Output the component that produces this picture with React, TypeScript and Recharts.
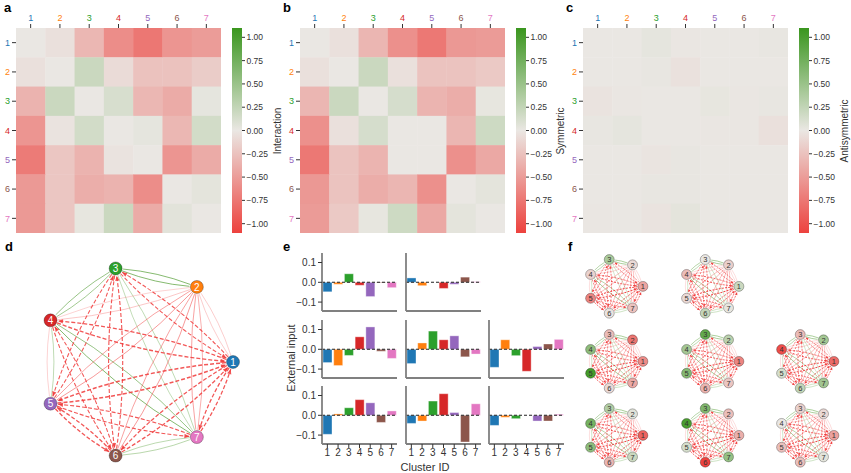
import React from "react";
import { Bar, BarChart, Cell, ReferenceLine, Scatter, ScatterChart, XAxis, YAxis } from "recharts";

const FONT = '"Liberation Sans", Arial, sans-serif';

const CLUSTERS = [1, 2, 3, 4, 5, 6, 7];
const CLUSTER_COLORS = ["#1f77b4", "#ff7f0e", "#2ca02c", "#d62728", "#9467bd", "#8c564b", "#e377c2"];

// rows = receiving cluster, columns = sending cluster
const interaction = [
  [0.0, -0.05, -0.32, -0.6, -0.75, -0.55, -0.5],
  [-0.05, 0.0, 0.2, -0.08, -0.25, -0.25, -0.18],
  [-0.35, 0.2, 0.0, 0.12, -0.32, -0.4, 0.03],
  [-0.55, -0.03, 0.15, 0.0, 0.03, -0.32, 0.15],
  [-0.72, -0.22, -0.35, -0.03, 0.0, -0.55, -0.4],
  [-0.52, -0.22, -0.38, -0.35, -0.6, 0.0, 0.04],
  [-0.52, -0.22, 0.02, 0.2, -0.4, 0.05, 0.0],
];

const symmetric = [
  [0.0, -0.05, -0.33, -0.58, -0.74, -0.53, -0.51],
  [-0.05, 0.0, 0.2, -0.05, -0.24, -0.24, -0.2],
  [-0.33, 0.2, 0.0, 0.13, -0.34, -0.39, 0.02],
  [-0.58, -0.05, 0.13, 0.0, 0.0, -0.33, 0.18],
  [-0.74, -0.24, -0.34, 0.0, 0.0, -0.58, -0.42],
  [-0.53, -0.24, -0.39, -0.33, -0.58, 0.0, 0.04],
  [-0.51, -0.2, 0.02, 0.18, -0.42, 0.04, 0.0],
];

const antisymmetric = [
  [0.0, 0.0, 0.03, -0.01, 0.0, 0.0, 0.01],
  [0.0, 0.0, 0.01, -0.04, 0.0, 0.0, 0.0],
  [-0.03, -0.01, 0.0, 0.0, 0.02, -0.01, 0.01],
  [0.01, 0.03, 0.0, 0.0, -0.01, -0.01, -0.05],
  [0.0, 0.0, -0.02, 0.01, 0.0, 0.0, 0.0],
  [0.0, 0.0, 0.01, 0.01, 0.0, 0.0, 0.0],
  [-0.01, 0.0, -0.03, 0.04, 0.0, 0.0, 0.0],
];

const CBAR_RANGE = [-1.1, 1.1];
const CBAR_TICKS = [1, 0.75, 0.5, 0.25, 0, -0.25, -0.5, -0.75, -1];
const INPUT_TICKS = [-0.1, 0, 0.1];
const INPUT_DOMAIN = [-0.145, 0.148];

const input_r1c1 = [-0.048, -0.01, 0.043, -0.015, -0.072, -0.003, -0.027];
const input_r1c2 = [0.022, -0.017, 0.0, -0.031, -0.01, 0.026, 0.003];
const input_r2c1 = [-0.067, -0.082, -0.031, 0.063, 0.113, -0.01, -0.046];
const input_r2c2 = [-0.072, 0.032, 0.092, 0.048, 0.068, -0.038, -0.024];
const input_r2c3 = [-0.091, 0.048, -0.032, -0.111, 0.014, 0.027, 0.05];
const input_r3c1 = [-0.096, 0.007, 0.038, 0.079, 0.063, -0.036, 0.022];
const input_r3c2 = [-0.041, -0.029, 0.072, 0.109, 0.014, -0.135, 0.058];
const input_r3c3 = [-0.051, -0.01, -0.017, 0.0, -0.029, -0.029, 0.005];

const INPUT_PANELS = [
  { row: 0, col: 0, values: input_r1c1 },
  { row: 0, col: 1, values: input_r1c2 },
  { row: 1, col: 0, values: input_r2c1 },
  { row: 1, col: 1, values: input_r2c2 },
  { row: 1, col: 2, values: input_r2c3 },
  { row: 2, col: 0, values: input_r3c1 },
  { row: 2, col: 1, values: input_r3c2 },
  { row: 2, col: 2, values: input_r3c3 },
];

// ---- colours ----
const NEG = [237, 66, 62];
const MID = [234, 231, 227];
const POS = [58, 150, 30];

function divColor(v: number, vmax: number) {
  const t = Math.max(-1, Math.min(1, v / vmax));
  const end = t < 0 ? NEG : POS;
  const a = Math.abs(t);
  const c = MID.map((m, k) => Math.round(m + (end[k] - m) * a));
  return `rgb(${c.join(",")})`;
}

const minus = (s: string) => s.replace("-", "\u2212");
const fmt2 = (v: number) => minus(v.toFixed(2));
const fmt1 = (v: number) => (Math.abs(v) < 1e-9 ? "0.0" : minus(v.toFixed(1)));

// ---- layout ----
const HM_TOP = 28;
const HM_SIZE = 205;
const CELL = HM_SIZE / 7;
const HM_YAXIS = 16;
const CB_W = 10;
const TICK_FONT = 9;

function VText({ x, y, text, size = 10 }: { x: number; y: number; text: string; size?: number }) {
  return (
    <div
      style={{
        position: "absolute",
        left: x,
        top: y,
        transform: "translate(-50%, -50%) rotate(-90deg)",
        fontSize: size,
        color: "#333",
        whiteSpace: "nowrap",
        lineHeight: 1,
      }}
    >
      {text}
    </div>
  );
}

function Letter({ x, y, text }: { x: number; y: number; text: string }) {
  return (
    <div style={{ position: "absolute", left: x, top: y, fontSize: 13, fontWeight: "bold", lineHeight: "13px" }}>
      {text}
    </div>
  );
}

function Colorbar({ left, id, label }: { left: number; id: string; label: string }) {
  const stops = [];
  for (let k = 0; k <= 10; k++) {
    const t = k / 10;
    const v = CBAR_RANGE[1] - t * (CBAR_RANGE[1] - CBAR_RANGE[0]);
    stops.push(<stop key={k} offset={`${t * 100}%`} stopColor={divColor(v, CBAR_RANGE[1])} />);
  }
  return (
    <>
      <div style={{ position: "absolute", left, top: HM_TOP }}>
        <BarChart
          width={CB_W + 34}
          height={HM_SIZE}
          data={[{ name: "cb", span: CBAR_RANGE }]}
          margin={{ top: 0, right: 0, bottom: 0, left: 0 }}
          barCategoryGap={0}
        >
          <defs>
            <linearGradient id={id} x1="0" y1="0" x2="0" y2="1">
              {stops}
            </linearGradient>
          </defs>
          <XAxis dataKey="name" hide />
          <YAxis
            orientation="right"
            type="number"
            domain={CBAR_RANGE}
            ticks={CBAR_TICKS}
            interval={0}
            width={34}
            axisLine={false}
            tickSize={3}
            tickMargin={1.5}
            tickLine={{ stroke: "#333" }}
            tick={{ fontSize: 8.5, fill: "#333" }}
            tickFormatter={fmt2}
            allowDataOverflow
          />
          <Bar dataKey="span" fill={`url(#${id})`} isAnimationActive={false} />
        </BarChart>
      </div>
      <VText x={left + 45.5} y={HM_TOP + HM_SIZE / 2} text={label} size={10} />
    </>
  );
}

function Heatmap({ matrix, left, cbLeft, label, id }: { matrix: number[][]; left: number; cbLeft: number; label: string; id: string }) {
  const cells: { x: number; y: number; v: number }[] = [];
  matrix.forEach((row, i) => row.forEach((v, j) => cells.push({ x: j + 1, y: i + 1, v })));
  return (
    <>
      <div style={{ position: "absolute", left: left - HM_YAXIS, top: 0 }}>
        <ScatterChart width={HM_YAXIS + HM_SIZE} height={HM_TOP + HM_SIZE} margin={{ top: 0, right: 0, bottom: 0, left: 0 }}>
          <XAxis
            type="number"
            dataKey="x"
            orientation="top"
            domain={[0.5, 7.5]}
            ticks={CLUSTERS}
            interval={0}
            height={HM_TOP}
            axisLine={false}
            tickSize={4}
            tickLine={{ stroke: "#333" }}
            tick={(p: any) => (
              <text x={p.x} y={p.y} dy={-1} textAnchor="middle" fontSize={TICK_FONT} fill={CLUSTER_COLORS[p.payload.value - 1]}>
                {p.payload.value}
              </text>
            )}
          />
          <YAxis
            type="number"
            dataKey="y"
            domain={[0.5, 7.5]}
            reversed
            ticks={CLUSTERS}
            interval={0}
            width={HM_YAXIS}
            axisLine={false}
            tickSize={4}
            tickLine={{ stroke: "#333" }}
            tick={(p: any) => (
              <text x={p.x} y={p.y} dy="0.35em" textAnchor="end" fontSize={TICK_FONT} fill={CLUSTER_COLORS[p.payload.value - 1]}>
                {p.payload.value}
              </text>
            )}
          />
          <Scatter
            data={cells}
            isAnimationActive={false}
            shape={(p: any) => (
              <rect
                x={p.cx - CELL / 2}
                y={p.cy - CELL / 2}
                width={CELL + 0.4}
                height={CELL + 0.4}
                fill={divColor(p.payload.v, CBAR_RANGE[1])}
              />
            )}
          />
        </ScatterChart>
      </div>
      <Colorbar left={cbLeft} id={id} label={label} />
    </>
  );
}

// ---- networks ----
const NODE_POS = CLUSTERS.map((_, k) => ({
  x: Math.cos((2 * Math.PI * k) / 7),
  y: Math.sin((2 * Math.PI * k) / 7),
}));

const EDGES: { s: number; t: number; v: number }[] = [];
interaction.forEach((row, t) =>
  row.forEach((v, s) => {
    if (s !== t && Math.abs(v) >= 0.02) EDGES.push({ s, t, v });
  })
);
EDGES.sort((a, b) => Math.abs(a.v) - Math.abs(b.v));
const EDGE_POINTS = EDGES.flatMap((e) => [NODE_POS[e.s], NODE_POS[e.t]]);

function drawEdges(points: { x: number; y: number }[], nodeR: number, small: boolean) {
  return (
    <g>
      {EDGES.map((e, k) => {
        const p = points[2 * k];
        const q = points[2 * k + 1];
        if (!p || !q) return null;
        const dx = q.x - p.x;
        const dy = q.y - p.y;
        const len = Math.hypot(dx, dy);
        const nx = -dy / len;
        const ny = dx / len;
        const off = 0.07 * len;
        const c = { x: (p.x + q.x) / 2 + nx * off, y: (p.y + q.y) / 2 + ny * off };
        const unit = (a: { x: number; y: number }, b: { x: number; y: number }) => {
          const l = Math.hypot(b.x - a.x, b.y - a.y);
          return { x: (b.x - a.x) / l, y: (b.y - a.y) / l };
        };
        const us = unit(p, c);
        const ue = unit(q, c);
        const s = { x: p.x + us.x * (nodeR + 0.5), y: p.y + us.y * (nodeR + 0.5) };
        const en = { x: q.x + ue.x * (nodeR + 1), y: q.y + ue.y * (nodeR + 1) };
        const a = Math.abs(e.v);
        const neg = e.v < 0;
        const strong = a >= 0.28;
        const stroke = neg ? "#f03a3a" : "#4e9a2e";
        const opacity = neg
          ? strong
            ? small ? 0.9 : 0.85
            : Math.min(0.7, 0.28 + a)
          : Math.min(0.9, 0.45 + a * 1.5);
        const width = small ? 0.5 + 0.7 * a : 0.7 + 1.1 * a;
        const dash = neg && strong ? (small ? "2 1.2" : "4 2") : undefined;
        const aLen = small ? 3 : 5;
        const aW = small ? 1.3 : 2.2;
        const d = { x: -ue.x, y: -ue.y };
        const base = { x: en.x - d.x * aLen, y: en.y - d.y * aLen };
        const arrow =
          neg && strong ? (
            <polygon
              points={`${en.x},${en.y} ${base.x - d.y * aW},${base.y + d.x * aW} ${base.x + d.y * aW},${base.y - d.x * aW}`}
              fill={stroke}
              fillOpacity={opacity}
            />
          ) : null;
        return (
          <g key={k}>
            <path
              d={`M${s.x},${s.y} Q${c.x},${c.y} ${en.x},${en.y}`}
              fill="none"
              stroke={stroke}
              strokeOpacity={opacity}
              strokeWidth={width}
              strokeDasharray={dash}
            />
            {arrow}
          </g>
        );
      })}
    </g>
  );
}

function Network({
  cx,
  cy,
  R,
  nodeR,
  fills,
  labelColor,
  fontSize,
  small,
}: {
  cx: number;
  cy: number;
  R: number;
  nodeR: number;
  fills: string[];
  labelColor: string;
  fontSize: number;
  small: boolean;
}) {
  const size = 2.5 * R;
  const nodes = NODE_POS.map((p, k) => ({ ...p, id: CLUSTERS[k], fill: fills[k] }));
  return (
    <div style={{ position: "absolute", left: cx - size / 2, top: cy - size / 2 }}>
      <ScatterChart width={size} height={size} margin={{ top: 0, right: 0, bottom: 0, left: 0 }}>
        <XAxis type="number" dataKey="x" domain={[-1.25, 1.25]} hide allowDataOverflow />
        <YAxis type="number" dataKey="y" domain={[-1.25, 1.25]} hide allowDataOverflow />
        <Scatter
          data={EDGE_POINTS}
          isAnimationActive={false}
          shape={() => <g />}
          line={(lp: any) => drawEdges(lp.points || [], nodeR, small)}
        />
        <Scatter
          data={nodes}
          isAnimationActive={false}
          shape={(p: any) => (
            <g>
              <circle cx={p.cx} cy={p.cy} r={nodeR} fill={p.payload.fill} stroke="rgba(0,0,0,0.4)" strokeWidth={0.7} />
              <text x={p.cx} y={p.cy} dy="0.36em" textAnchor="middle" fontSize={fontSize} fill={labelColor}>
                {p.payload.id}
              </text>
            </g>
          )}
        />
      </ScatterChart>
    </div>
  );
}

// ---- external input bars ----
const E_COL_LEFT = [322, 406, 489];
const E_ROW_TOP = [253, 319.5, 386];
const E_W = 75;
const E_H = 58;

function InputBars({ values, row, col }: { values: number[]; row: number; col: number }) {
  const data = CLUSTERS.map((c, i) => ({ c, v: values[i] }));
  const yW = col === 0 ? 34 : 5;
  const xH = row === 2 ? 20 : 6;
  return (
    <div style={{ position: "absolute", left: E_COL_LEFT[col] - yW, top: E_ROW_TOP[row] }}>
      <BarChart width={yW + E_W} height={E_H + xH} data={data} margin={{ top: 0, right: 0, bottom: 0, left: 0 }}>
        <XAxis
          dataKey="c"
          height={xH}
          axisLine={{ stroke: "#808080", strokeWidth: 1.8 }}
          tickSize={4}
          tickMargin={1}
          tickLine={{ stroke: "#333" }}
          tick={row === 2 ? { fontSize: 10, fill: "#333" } : false}
          interval={0}
        />
        <YAxis
          type="number"
          domain={INPUT_DOMAIN}
          ticks={INPUT_TICKS}
          interval={0}
          width={yW}
          allowDataOverflow
          axisLine={{ stroke: "#808080", strokeWidth: 1.8 }}
          tickSize={4}
          tickMargin={2}
          tickLine={{ stroke: "#333" }}
          tick={col === 0 ? { fontSize: 10, fill: "#333" } : false}
          tickFormatter={fmt1}
        />
        <Bar dataKey="v" barSize={9} isAnimationActive={false} stroke="rgba(255,255,255,0.6)" strokeWidth={0.6}>
          {data.map((d, i) => (
            <Cell key={d.c} fill={CLUSTER_COLORS[i]} />
          ))}
        </Bar>
        <ReferenceLine y={0} stroke="#222" strokeDasharray="3 2" strokeWidth={1.1} />
      </BarChart>
    </div>
  );
}

const F_CX = [615.5, 711, 806];
const F_CY = [286.5, 361.5, 435.5];

export default function App() {
  return (
    <div
      style={{
        position: "absolute",
        left: 0,
        top: 0,
        width: 851,
        height: 473,
        background: "#fff",
        fontFamily: FONT,
        overflow: "hidden",
      }}
    >
      <Letter x={4} y={1} text="a" />
      <Letter x={283} y={1} text="b" />
      <Letter x={566} y={1} text="c" />
      <Letter x={5} y={240} text="d" />
      <Letter x={283} y={240} text="e" />
      <Letter x={568} y={240} text="f" />

      <Heatmap matrix={interaction} left={16.4} cbLeft={232} label="Interaction" id="grad-a" />
      <Heatmap matrix={symmetric} left={299.7} cbLeft={515.7} label="Symmetric" id="grad-b" />
      <Heatmap matrix={antisymmetric} left={583} cbLeft={799.3} label="Antisymmetric" id="grad-c" />

      <Network cx={137} cy={362} R={96} nodeR={6.5} fills={CLUSTER_COLORS} labelColor="#fff" fontSize={10} small={false} />

      {INPUT_PANELS.map((p) => (
        <InputBars key={`${p.row}-${p.col}`} values={p.values} row={p.row} col={p.col} />
      ))}
      <VText x={291} y={358} text="External input" size={11} />
      <div style={{ position: "absolute", left: 425, top: 467, transform: "translate(-50%, -50%)", fontSize: 11, color: "#333", whiteSpace: "nowrap" }}>
        Cluster ID
      </div>

      {INPUT_PANELS.map((p) => (
        <Network
          key={`f-${p.row}-${p.col}`}
          cx={F_CX[p.col]}
          cy={F_CY[p.row]}
          R={27.5}
          nodeR={5}
          fills={p.values.map((v) => divColor(v, 0.12))}
          labelColor="#333"
          fontSize={7.5}
          small
        />
      ))}
    </div>
  );
}
